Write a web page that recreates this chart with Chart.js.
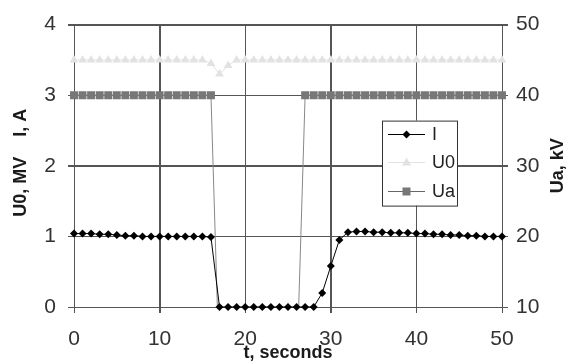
<!DOCTYPE html>
<html>
<head>
<meta charset="utf-8">
<script src="https://cdn.jsdelivr.net/npm/chart.js@4.4.1/dist/chart.umd.min.js"></script>
<style>
    html, body { margin: 0; padding: 0; background: #fff; }
    #wrap { width: 573px; height: 362px; }
</style>
</head>
<body>
<div id="wrap"><canvas id="pulse-chart" width="573" height="362"></canvas></div>
<script>
// time, seconds
const times = [0, 1, 2, 3, 4, 5, 6, 7, 8, 9, 10, 11, 12, 13, 14, 15, 16, 17, 18, 19, 20, 21, 22, 23, 24, 25,
    26, 27, 28, 29, 30, 31, 32, 33, 34, 35, 36, 37, 38, 39, 40, 41, 42, 43, 44, 45, 46, 47, 48, 49, 50];
// I, A
const current = [1.04, 1.04, 1.04, 1.03, 1.03, 1.02, 1.01, 1.01, 1.0, 1.0, 1.0, 1.0, 1.0, 1.0, 1.0, 1.0, 0.99,
    0, 0, 0, 0, 0, 0, 0, 0, 0, 0, 0, 0, 0.2, 0.58, 0.95, 1.06, 1.07, 1.07, 1.06, 1.06, 1.05, 1.05, 1.05,
    1.04, 1.04, 1.03, 1.03, 1.02, 1.02, 1.01, 1.01, 1.0, 1.0, 1.0];
// U0, MV
const u0 = [3.5, 3.5, 3.5, 3.5, 3.5, 3.5, 3.5, 3.5, 3.5, 3.5, 3.5, 3.5, 3.5, 3.5, 3.5, 3.5, 3.45, 3.3, 3.42,
    3.5, 3.5, 3.5, 3.5, 3.5, 3.5, 3.5, 3.5, 3.5, 3.5, 3.5, 3.5, 3.5, 3.5, 3.5, 3.5, 3.5, 3.5, 3.5, 3.5, 3.5,
    3.5, 3.5, 3.5, 3.5, 3.5, 3.5, 3.5, 3.5, 3.5, 3.5, 3.5];
// Ua, kV
const ua = [40, 40, 40, 40, 40, 40, 40, 40, 40, 40, 40, 40, 40, 40, 40, 40, 40, 0, 0, 0, 0, 0, 0, 0, 0, 0, 0,
    40, 40, 40, 40, 40, 40, 40, 40, 40, 40, 40, 40, 40, 40, 40, 40, 40, 40, 40, 40, 40, 40, 40, 40];

const seriesNames = ['I', 'U0', 'Ua'];
const xTitle = 't, seconds';
const yTitle = 'U0, MV    I, A';
const y1Title = 'Ua, kV';

const gridColor = '#555';
const tickFont = {family: "'Liberation Sans Narrow', 'Liberation Sans', Arial", size: 21};
const titleFont = "bold 18px 'Liberation Sans', Arial";

const toPoints = (arr) => times.map((t, i) => ({x: t, y: arr[i]}));

const legendStyle = [
    {line: '#000', fill: '#000', shape: 'diamond'},
    {line: '#e2e2e2', fill: '#e2e2e2', shape: 'triangle'},
    {line: '#666', fill: '#777', shape: 'square'},
];

const drawShape = (ctx, shape, x, y) => {
    ctx.beginPath();
    if (shape === 'diamond') {
        ctx.moveTo(x, y - 4); ctx.lineTo(x + 4, y); ctx.lineTo(x, y + 4); ctx.lineTo(x - 4, y);
    } else if (shape === 'triangle') {
        ctx.moveTo(x, y - 5); ctx.lineTo(x + 4.5, y + 3); ctx.lineTo(x - 4.5, y + 3);
    } else {
        ctx.rect(x - 4, y - 4, 8, 8);
    }
    ctx.closePath();
    ctx.fill();
}

// grid lines + outside tick marks, taken from the scales' own ticks
const gridPlugin = {
    id: 'grid-lines',
    beforeDatasetsDraw: (chart) => {
        const ctx = chart.ctx;
        const {top, left, right, bottom} = chart.chartArea;
        const sx = chart.scales.x, sy = chart.scales.y, sy1 = chart.scales.y1;
        const px = (v) => Math.round(v) + 0.5;
        ctx.save();
        ctx.strokeStyle = gridColor;
        ctx.lineWidth = 1;
        ctx.beginPath();
        sx.ticks.forEach(t => {
            const x = px(sx.getPixelForValue(t.value));
            ctx.moveTo(x, top);
            ctx.lineTo(x, bottom + 6);
        });
        sy.ticks.forEach(t => {
            const y = px(sy.getPixelForValue(t.value));
            ctx.moveTo(left - 6, y);
            ctx.lineTo(right, y);
        });
        sy1.ticks.forEach(t => {
            const y = px(sy1.getPixelForValue(t.value));
            ctx.moveTo(right, y);
            ctx.lineTo(right + 6, y);
        });
        ctx.moveTo(px(left), top);
        ctx.lineTo(px(left), bottom);
        ctx.moveTo(px(right), top);
        ctx.lineTo(px(right), bottom);
        ctx.stroke();
        ctx.restore();
    }
}

const titlesAndLegend = {
    id: 'titles-legend',
    afterDraw: (chart) => {
        const ctx = chart.ctx;
        const {top, left, right, bottom} = chart.chartArea;
        const midY = (top + bottom) / 2;
        ctx.save();
        ctx.fillStyle = '#1a1a1a';
        ctx.font = titleFont;
        ctx.textAlign = 'center';
        ctx.textBaseline = 'middle';
        // x title
        ctx.fillText(xTitle, (left + right) / 2, bottom + 46);
        // left title
        ctx.save();
        ctx.translate(left - 53, midY - 3);
        ctx.rotate(-Math.PI / 2);
        ctx.fillText(yTitle, 0, 0);
        ctx.restore();
        // right title (reads bottom to top like the left one)
        ctx.save();
        ctx.translate(right + 56, midY);
        ctx.rotate(-Math.PI / 2);
        ctx.fillText(y1Title, 0, 0);
        ctx.restore();

        // legend box
        const bx = left + 308, by = top + 96, bw = 75, bh = 85;
        ctx.fillStyle = '#fff';
        ctx.fillRect(bx, by, bw, bh);
        ctx.strokeStyle = '#333';
        ctx.lineWidth = 1;
        ctx.strokeRect(bx + 0.5, by + 0.5, bw, bh);
        ctx.font = "18px 'Liberation Sans Narrow', 'Liberation Sans', Arial";
        ctx.textAlign = 'left';
        seriesNames.forEach((name, i) => {
            const y = by + 13 + i * 28.5;
            const st = legendStyle[i];
            ctx.strokeStyle = st.line;
            ctx.beginPath();
            ctx.moveTo(bx + 6, Math.round(y) + 0.5);
            ctx.lineTo(bx + 43, Math.round(y) + 0.5);
            ctx.stroke();
            ctx.fillStyle = st.fill;
            drawShape(ctx, st.shape, bx + 24.5, Math.round(y) + 0.5);
            ctx.fillStyle = '#222';
            ctx.fillText(name, bx + 50, y + 1);
        });
        ctx.restore();
    }
}

new Chart(document.getElementById('pulse-chart'), {
    type: 'line',
    data: {
        datasets: [{
            label: seriesNames[0],
            data: toPoints(current),
            yAxisID: 'y',
            borderColor: '#000',
            backgroundColor: '#000',
            borderWidth: 1,
            pointStyle: 'rectRot',
            pointRadius: 4,
            pointBorderWidth: 0,
            clip: false,
        }, {
            label: seriesNames[1],
            data: toPoints(u0),
            yAxisID: 'y',
            borderColor: '#e2e2e2',
            backgroundColor: '#e2e2e2',
            borderWidth: 1,
            pointStyle: 'triangle',
            pointRadius: 5,
            pointBorderWidth: 0,
            clip: {left: 8, top: 8, right: 8, bottom: 0},
        }, {
            label: seriesNames[2],
            data: toPoints(ua),
            yAxisID: 'y1',
            borderColor: '#888',
            backgroundColor: '#777',
            borderWidth: 1,
            pointStyle: 'rect',
            pointRadius: 5.6,
            pointBorderWidth: 0,
            clip: {left: 8, top: 8, right: 8, bottom: 0},
        }]
    },
    options: {
        responsive: false,
        animation: false,
        devicePixelRatio: 1,
        layout: {padding: {top: 16, left: 0, right: 0, bottom: 0}},
        plugins: {
            legend: {display: false},
            tooltip: {enabled: false},
        },
        scales: {
            x: {
                type: 'linear',
                min: 0,
                max: 50,
                ticks: {stepSize: 10, color: '#333', font: tickFont, padding: 14, maxRotation: 0},
                grid: {display: true, drawOnChartArea: true, drawTicks: true, color: gridColor, lineWidth: 1, tickLength: 6},
                border: {display: true, color: gridColor},
                afterFit: (scale) => { scale.height = 55 },
            },
            y: {
                position: 'left',
                min: 0,
                max: 4,
                ticks: {stepSize: 1, color: '#333', font: tickFont, padding: 12},
                grid: {display: true, drawOnChartArea: true, drawTicks: true, color: gridColor, lineWidth: 1, tickLength: 6},
                border: {display: true, color: gridColor},
                afterFit: (scale) => { scale.width = 74 },
            },
            y1: {
                position: 'right',
                min: 10,
                max: 50,
                ticks: {stepSize: 10, color: '#333', font: tickFont, padding: 8},
                grid: {display: true, drawOnChartArea: false, drawTicks: true, color: gridColor, lineWidth: 1, tickLength: 6},
                border: {display: true, color: gridColor},
                afterFit: (scale) => { scale.width = 71 },
            }
        }
    },
    plugins: [gridPlugin, titlesAndLegend]
})
</script>
</body>
</html>
